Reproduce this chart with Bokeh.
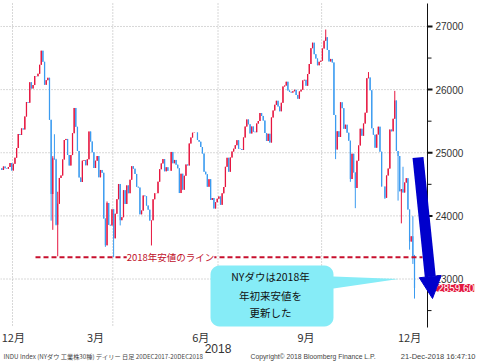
import numpy as np
import pandas as pd
from bokeh.plotting import figure
from bokeh.models import Range1d, Label, Arrow, NormalHead, PolyAnnotation, ColumnDataSource
from bokeh.embed import file_html
from bokeh.resources import INLINE
from bokeh.core.properties import value

# ---------------- data (NY Dow, daily, 20 Dec 2017 - 20 Dec 2018) ----------------
prev_close = 24754.75  # close of 19 Dec 2017
close_dec17 = [24726.65, 24782.29, 24754.06, 24746.21, 24774.30, 24837.51, 24719.22]
close_jan = [24824.01, 24922.68, 25075.13, 25295.87, 25283.00, 25385.80, 25369.13, 25574.73,
             25803.19, 25792.86, 26115.65, 26017.81, 26071.72, 26214.60, 26210.81, 26252.12,
             26392.79, 26616.71, 26439.48, 26076.89, 26149.39]
close_feb = [26186.71, 25520.96, 24345.75, 24912.77, 24893.35, 23860.46, 24190.90, 24601.27,
             24640.45, 24893.49, 25200.37, 25219.38, 24964.75, 24797.78, 24962.48, 25309.99,
             25709.27, 25410.03, 25029.20]
close_mar = [24608.98, 24538.06, 24874.76, 24884.12, 24801.36, 24895.21, 25335.74, 25178.61,
             25007.03, 24758.12, 24873.66, 24946.51, 24610.91, 24727.27, 24682.31, 23957.89,
             23533.20, 24202.60, 23857.71, 23848.42, 24103.11]
close_apr = [23644.19, 24033.36, 24264.30, 24505.22, 23932.76, 23979.10, 24407.81, 24189.45,
             24483.05, 24360.14, 24573.04, 24786.63, 24748.07, 24664.89, 24462.94, 24448.69,
             24024.13, 24083.83, 24322.34, 24311.19, 24163.15]
close_may = [24099.05, 23924.98, 23930.15, 24262.51, 24357.32, 24360.21, 24542.54, 24739.53,
             24831.17, 24899.41, 24706.41, 24768.93, 24713.98, 24715.09, 25013.29, 24834.41,
             24886.81, 24811.76, 24753.09, 24361.45, 24667.78, 24415.84]
close_jun = [24635.21, 24813.69, 24799.98, 25146.39, 25241.41, 25316.53, 25322.31, 25320.73,
             25201.20, 25175.31, 25090.48, 24987.47, 24700.21, 24657.80, 24461.70, 24580.89,
             24252.80, 24283.11, 24117.59, 24216.05, 24271.41]
close_jul = [24307.18, 24174.82, 24356.74, 24456.48, 24776.59, 24919.66, 24700.45, 24924.89,
             25019.41, 25064.36, 25119.89, 25199.29, 25064.50, 25058.12, 25044.29, 25241.94,
             25414.10, 25527.07, 25451.06, 25306.83, 25415.19]
close_aug = [25333.82, 25326.16, 25462.58, 25502.18, 25628.91, 25583.75, 25509.23, 25313.14,
             25187.70, 25299.92, 25162.41, 25558.73, 25669.32, 25758.69, 25822.29, 25733.60,
             25656.98, 25790.35, 26049.64, 26064.02, 26124.57, 25986.92, 25964.82]
close_sep = [25952.48, 25974.99, 25995.87, 25916.54, 25857.07, 25971.06, 25998.92, 26145.99,
             26154.67, 26062.12, 26246.96, 26405.76, 26656.98, 26743.50, 26562.05, 26492.21,
             26385.28, 26439.93, 26458.31]
close_oct = [26651.21, 26773.94, 26828.39, 26627.48, 26447.05, 26486.78, 26430.57, 25598.74,
             25052.83, 25339.99, 25250.55, 25798.42, 25706.68, 25379.45, 25444.34, 25317.41,
             25191.43, 24583.42, 24984.55, 24688.31, 24442.92, 24874.64, 25115.76]
close_nov = [25380.74, 25270.83, 25461.70, 25635.01, 26180.30, 26191.22, 25989.30, 25387.18,
             25286.49, 25080.50, 25289.27, 25413.22, 25017.44, 24465.64, 24464.69, 24285.95,
             24640.24, 24748.73, 25366.43, 25338.84, 25538.46]
close_dec18 = [25826.43, 25027.07, 24947.67, 24388.95, 24423.26, 24370.24, 24527.27, 24597.38,
               24100.51, 23592.98, 23675.64, 23323.66, 22859.60]

# intraday extremes
high_marks = {"2018-01-26": 26616.71, "2018-02-02": 26061.79, "2018-02-05": 25520.96,
              "2018-02-06": 24946.23, "2018-02-07": 25293.20, "2018-02-08": 24903.68,
              "2018-02-09": 24382.14, "2018-03-26": 24228.00, "2018-10-03": 26951.81,
              "2018-11-08": 26277.80, "2018-12-03": 25980.21, "2018-12-11": 24778.00,
              "2018-12-19": 23995.00, "2018-12-20": 23381.90}
low_marks = {"2018-02-05": 23923.89, "2018-02-06": 23778.74, "2018-02-08": 23849.23,
             "2018-02-09": 23360.29, "2018-03-23": 23509.06, "2018-04-02": 23344.52,
             "2018-04-06": 23849.00, "2018-05-03": 23531.31, "2018-10-11": 24899.20,
             "2018-10-24": 24539.00, "2018-10-29": 24122.23, "2018-11-23": 24268.00,
             "2018-12-06": 24242.29, "2018-12-10": 23881.38, "2018-12-17": 23465.00,
             "2018-12-19": 23239.00, "2018-12-20": 22690.00}

holidays = ["2017-12-25", "2018-01-01", "2018-01-15", "2018-02-19", "2018-03-30",
            "2018-05-28", "2018-07-04", "2018-09-03", "2018-11-22", "2018-12-05"]

y_ticks = [23000, 24000, 25000, 26000, 27000]
y_minor = [22500, 23500, 24500, 25500, 26500]
month_names = {12: "12月", 3: "3月", 6: "6月", 9: "9月"}
year_label = "2018"
callout_lines = ["NYダウは2018年", "年初来安値を", "更新した"]
low_line_text = "2018年安値のライン"
foot_left = "INDU Index (NYダウ 工業株30種) デイリー  日足  20DEC2017-20DEC2018"
foot_mid = "Copyright© 2018 Bloomberg Finance L.P."
foot_right = "21-Dec-2018 16:47:10"

# ---------------- build table ----------------
closes = (close_dec17 + close_jan + close_feb + close_mar + close_apr + close_may + close_jun +
          close_jul + close_aug + close_sep + close_oct + close_nov + close_dec18)
dates = pd.bdate_range("2017-12-20", "2018-12-20", freq="C", holidays=holidays)
assert len(dates) == len(closes)
closes = np.array(closes)
opens = np.concatenate([[prev_close], closes[:-1]])
dstr = [d.strftime("%Y-%m-%d") for d in dates]
highs = np.array([max(o, c, high_marks.get(d, 0)) for o, c, d in zip(opens, closes, dstr)])
lows = np.array([min(o, c, low_marks.get(d, 1e9)) for o, c, d in zip(opens, closes, dstr)])
idx = np.arange(len(closes))
UP, DOWN = "#e6163f", "#3b9bf0"
colors = [UP if c >= o else DOWN for o, c in zip(opens, closes)]
src = ColumnDataSource(dict(x=idx, h=highs, l=lows, top=np.maximum(opens, closes),
                            bottom=np.minimum(opens, closes), color=colors))

# ---------------- canvas / scales ----------------
W, H = 477, 364
PX_PER_DAY = 1.6442           # horizontal scale
PX_PER_PT = 324 / 5132        # vertical scale
XA = -0.8                     # index at left canvas edge
YT = 27364 + 3 / PX_PER_PT    # value at top canvas edge
XB = XA + W / PX_PER_DAY
YB = YT - H / PX_PER_PT
AX = 427                      # right axis line (px)
PT, PB = 3, 327               # plot top / bottom (px)


def X(px):
    return XA + px / PX_PER_DAY


def Y(py):
    return YT - py / PX_PER_PT


p = figure(width=W, height=H, x_range=Range1d(XA, XB), y_range=Range1d(YB, YT),
           x_axis_location=None, y_axis_location=None, output_backend="svg",
           toolbar_location=None, min_border=0)
p.grid.visible = False
p.outline_line_color = None
p.background_fill_color = "white"
p.border_fill_color = "white"

GRID = dict(line_color="#b0b0b0", line_dash="1 2", line_width=1)
# horizontal grid
p.segment(x0=[X(0)] * len(y_ticks), y0=y_ticks, x1=[X(AX)] * len(y_ticks), y1=y_ticks, **GRID)
# vertical grid at quarter starts
quarter_starts = [i - 0.5 for i in range(1, len(dates))
                  if dates[i].month != dates[i - 1].month and dates[i].month in (1, 4, 7, 10)]
p.segment(x0=quarter_starts, y0=[Y(PT)] * len(quarter_starts), x1=quarter_starts,
          y1=[Y(PB)] * len(quarter_starts), **GRID)

# right axis (line, ticks, labels)
p.segment(x0=[X(AX)], y0=[Y(PT)], x1=[X(AX)], y1=[Y(PB)], line_color="#111111", line_width=1)
p.segment(x0=[X(AX)] * len(y_ticks), y0=y_ticks, x1=[X(AX + 5)] * len(y_ticks), y1=y_ticks,
          line_color="#111111", line_width=2)
p.segment(x0=[X(AX)] * len(y_minor), y0=y_minor, x1=[X(AX + 4)] * len(y_minor), y1=y_minor,
          line_color="#111111", line_width=1)
p.text(x=[X(AX + 8)] * len(y_ticks), y=y_ticks, text=[str(t) for t in y_ticks],
       text_align="left", text_baseline="middle", text_font=value("Liberation Sans"),
       text_font_size="10px", text_color="#333333")

# month labels (mid-month)
month_ticks, month_text = [], []
for (yy, mm) in [(2017, 12), (2018, 3), (2018, 6), (2018, 9), (2018, 12)]:
    k = int(np.searchsorted(dates.values, np.datetime64(f"{yy}-{mm:02d}-15")))
    month_ticks.append(max(k, 7))
    month_text.append(month_names[mm])
p.text(x=month_ticks, y=[Y(336.5)] * len(month_ticks), text=month_text, text_align="center",
       text_baseline="middle", text_font=value("Noto Sans CJK JP"), text_font_size="11px",
       text_color="#333333")
year_x = [i - 0.5 for i in range(1, len(dates))
          if dates[i].month == 7 and dates[i - 1].month == 6]
p.text(x=year_x, y=[Y(347.5)], text=[year_label], text_align="center", text_baseline="middle",
       text_font=value("Liberation Sans"), text_font_size="12px", text_color="#333333")

# footnotes
p.text(x=[X(3)], y=[Y(356)], text=[foot_left], text_align="left", text_baseline="middle",
       text_font=value("Noto Sans CJK JP"), text_font_size="6.2px", text_color="#444444")
p.text(x=[X(250)], y=[Y(356)], text=[foot_mid], text_align="left", text_baseline="middle",
       text_font=value("Liberation Sans"), text_font_size="6.8px", text_color="#444444")
p.text(x=[X(475)], y=[Y(356)], text=[foot_right], text_align="right", text_baseline="middle",
       text_font=value("Liberation Sans"), text_font_size="7.5px", text_color="#444444")

# candles
p.segment(x0="x", y0="l", x1="x", y1="h", line_color="color", line_width=1, source=src)
p.vbar(x="x", width=0.75, top="top", bottom="bottom", fill_color="color", line_color=None,
       source=src)

# 2018 low line
mask = (dates >= "2018-01-01") & (dates < "2018-12-01")
low2018 = float(lows[mask].min())
p.segment(x0=[X(35)], y0=[low2018], x1=[X(422)], y1=[low2018], line_color="#c8102e",
          line_width=2, line_dash="5 3")
p.add_layout(Label(x=X(170), y=low2018, text=low_line_text, text_align="center",
                   text_baseline="middle", text_font="Noto Sans CJK JP", text_font_size="9.5px",
                   text_color="#c0102a", background_fill_color="white"))


# callout bubble
def arc(cx, cy, r, a0, a1, n=8):
    a = np.radians(np.linspace(a0, a1, n))
    return list(cx + r * np.cos(a)), list(cy + r * np.sin(a))


r = 9
L, R, T, B = 210, 333, 265, 326
pts_x, pts_y = [], []
for cx, cy, a0, a1 in [(L + r, T + r, 180, 270), (R - r, T + r, 270, 360)]:
    ax_, ay_ = arc(cx, cy, r, a0, a1)
    pts_x += ax_
    pts_y += ay_
pts_x += [R, 398, R]
pts_y += [276, 278.5, 288]
for cx, cy, a0, a1 in [(R - r, B - r, 0, 90), (L + r, B - r, 90, 180)]:
    ax_, ay_ = arc(cx, cy, r, a0, a1)
    pts_x += ax_
    pts_y += ay_
p.add_layout(PolyAnnotation(xs=[X(v) for v in pts_x], ys=[Y(v) for v in pts_y],
                            fill_color="#86ecf7", fill_alpha=1.0, line_color=None))
for line, py in zip(callout_lines, [276, 294.5, 311.5]):
    p.add_layout(Label(x=X(270), y=Y(py), text=line, text_align="center", text_baseline="middle",
                       text_font="Noto Sans CJK JP", text_font_size="10.5px", text_color="#111111"))

# last price tag
p.add_layout(Label(x=X(432), y=float(closes[-1]), text=f"{closes[-1]:.2f}", text_align="left",
                   text_baseline="middle", text_font="Liberation Sans", text_font_size="10px",
                   text_color="white", background_fill_color="#e3173e"))

# big blue arrow
p.add_layout(Arrow(x_start=X(417.5), y_start=Y(157), x_end=X(432), y_end=Y(298),
                   line_color="#0000cc", line_width=11,
                   end=NormalHead(size=22, fill_color="#0000cc", line_color="#0000cc")))

open("out.html", "w").write(file_html(p, INLINE))
